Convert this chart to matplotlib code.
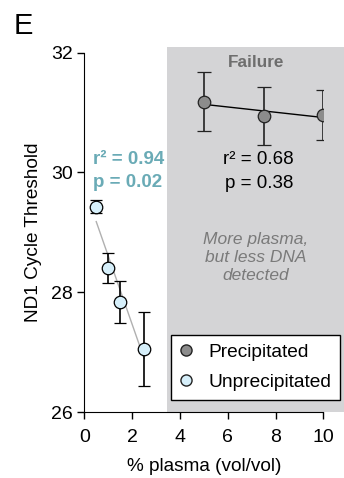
import numpy as np
import matplotlib.pyplot as plt
from matplotlib.patches import Rectangle

plt.rcParams['font.family'] = ['Liberation Sans', 'DejaVu Sans']

# Unprecipitated samples
unprec_x = [0.5, 1.0, 1.5, 2.5]
unprec_y = [29.43, 28.41, 27.84, 27.05]
unprec_err = [0.11, 0.25, 0.35, 0.62]

# Precipitated samples
prec_x = [5.0, 7.5, 10.0]
prec_y = [31.18, 30.94, 30.96]
prec_err = [0.49, 0.48, 0.41]

xticks = [0, 2, 4, 6, 8, 10]
yticks = [26, 28, 30, 32]

fig = plt.figure(figsize=(3.44, 4.78), dpi=100)
ax = fig.add_axes([0.245, 0.1375, 0.695, 0.7525])

# shaded "failure" region
ax.add_patch(Rectangle((3.45, 26), 7.7, 6.09, facecolor='#d4d4d6',
                       edgecolor='none', clip_on=False, zorder=0))

# regression lines
fu = np.polyfit(unprec_x, unprec_y, 1)
xs = np.array([unprec_x[0], unprec_x[-1]])
ax.plot(xs, np.polyval(fu, xs), color='#b0b0b0', lw=1.0, zorder=1)
fp = np.polyfit(prec_x, prec_y, 1)
xs = np.array([prec_x[0], prec_x[-1]])
ax.plot(xs, np.polyval(fp, xs), color='black', lw=1.0, zorder=1)

ax.errorbar(unprec_x, unprec_y, yerr=unprec_err, fmt='o', color='black',
            mfc='#d6effa', mec='black', mew=0.9, ms=9, capsize=4.3, elinewidth=1.2,
            capthick=1.2, zorder=3)
ax.errorbar(prec_x, prec_y, yerr=prec_err, fmt='o', color='#222222',
            mfc='#8c8c8c', mec='#222222', mew=0.9, ms=9, capsize=4.7, elinewidth=1.2,
            capthick=1.2, zorder=3)

ax.plot([], [], 'o', mfc='#8c8c8c', mec='#222222', ms=8, label='Precipitated')
ax.plot([], [], 'o', mfc='#d6effa', mec='#222222', ms=8, label='Unprecipitated')
leg = ax.legend(loc='lower right', bbox_to_anchor=(1.07, 0.035), fontsize=13.8,
                frameon=True, fancybox=False, handletextpad=0.9,
                borderpad=0.45, labelspacing=0.65, handlelength=0.6,
                borderaxespad=0)
leg.get_frame().set_edgecolor('black')
leg.get_frame().set_linewidth(1.0)
leg.get_frame().set_alpha(1)

ax.text(7.2, 31.83, 'Failure', ha='center', va='center', fontsize=12.3,
        fontweight='bold', color='#6e6e6e')
ax.text(7.3, 30.22, 'r² = 0.68', ha='center', va='center', fontsize=13.5)
ax.text(7.3, 29.82, 'p = 0.38', ha='center', va='center', fontsize=13.5)
ax.text(0.36, 30.22, 'r² = 0.94', ha='left', va='center', fontsize=13.5,
        fontweight='bold', color='#6aabb6')
ax.text(0.36, 29.84, 'p = 0.02', ha='left', va='center', fontsize=13.5,
        fontweight='bold', color='#6aabb6')
ax.text(7.18, 28.59, 'More plasma,\nbut less DNA\ndetected', ha='center',
        va='center', fontsize=12.5, style='italic', color='#7a7a7a',
        linespacing=1.25)

ax.set_xlim(0, 10)
ax.set_ylim(26, 32)
ax.set_xticks(xticks)
ax.set_yticks(yticks)
ax.tick_params(labelsize=14, width=1.0, length=5)
ax.tick_params(axis='x', pad=7)
ax.spines['top'].set_visible(False)
ax.spines['right'].set_visible(False)
ax.set_xlabel('% plasma (vol/vol)', fontsize=13.7, labelpad=9)
ax.set_ylabel('ND1 Cycle Threshold', fontsize=13.7, labelpad=6)

fig.text(0.04, 0.945, 'E', fontsize=21, ha='left', va='center')

fig.savefig('out.png', dpi=100)
